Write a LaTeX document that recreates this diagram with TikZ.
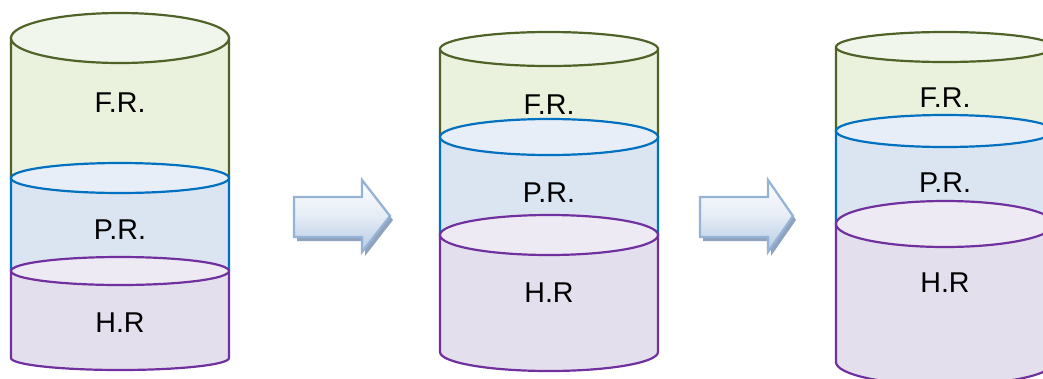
\documentclass[tikz,border=0pt]{standalone}
\usepackage{fontspec}
\setmainfont{Liberation Sans}
\usepackage{tikz}
\usetikzlibrary{positioning, arrows.meta, calc}

% colours of the three layers
\definecolor{frline}{HTML}{4F6228}
\definecolor{frfill}{HTML}{EAF1DD}
\definecolor{frtop}{HTML}{F1F6EC}
\definecolor{prline}{HTML}{0070C0}
\definecolor{prfill}{HTML}{DBE5F1}
\definecolor{prtop}{HTML}{E7EEF7}
\definecolor{hrline}{HTML}{7030A0}
\definecolor{hrfill}{HTML}{E4DFEC}
\definecolor{hrtop}{HTML}{EEEAF3}
\definecolor{arrline}{HTML}{95B3D7}
\definecolor{arrshade}{HTML}{8FA3BD}

% one layer of a drum: centre x, top y, bottom y, top and bottom half heights, line, fill, lid
\newcommand{\drumlayer}[8]{%
  \filldraw[#6, fill=#7] (#1-109,#2) -- (#1-109,#3)
    arc[start angle=180, end angle=360, x radius=109*0.2mm, y radius=#5*0.2mm]
    -- (#1+109,#2) -- cycle;
  \filldraw[#6, fill=#8] (#1,#2) ellipse[x radius=109*0.2mm, y radius=#4*0.2mm];
}

\begin{document}
\begin{tikzpicture}[
    x=0.2mm, y=0.2mm,
    line width=1.25pt,
    every node/.style={font=\fontsize{16.3}{19}\selectfont, inner sep=0pt},
    shift arrow/.style={draw=arrline, line width=1.3pt, top color=white, bottom color=arrline!70, middle color=arrline!25},
    arrow shadow/.style={fill=arrshade}
]
\useasboundingbox (0,0) rectangle (1043,378);

% First drum
\drumlayer{120}{340}{200}{25}{15}{frline}{frfill}{frtop}
\drumlayer{120}{200}{107}{15}{14}{prline}{prfill}{prtop}
\drumlayer{120}{107}{20}{14}{12}{hrline}{hrfill}{hrtop}
\node (fr1) at (120,275) {F.R.};
\node (pr1) at (120,148) {P.R.};
\node (hr1) at (120,55) {H.R};

% Second drum
\drumlayer{549}{329}{241}{17}{18}{frline}{frfill}{frtop}
\drumlayer{549}{241}{143}{18}{20}{prline}{prfill}{prtop}
\drumlayer{549}{143}{26}{20}{19}{hrline}{hrfill}{hrtop}
\node (fr2) at (549,273) {F.R.};
\node (pr2) at (549,185) {P.R.};
\node (hr2) at (549,85) {H.R};

% Third drum
\drumlayer{945}{331}{247}{15}{16}{frline}{frfill}{frtop}
\drumlayer{945}{247}{154}{16}{23}{prline}{prfill}{prtop}
\drumlayer{945}{154}{16}{23}{23}{hrline}{hrfill}{hrtop}
\node (fr3) at (945,280) {F.R.};
\node (pr3) at (945,195) {P.R.};
\node (hr3) at (945,95) {H.R};

% Arrows between the drums
\fill[arrow shadow] (297,177) -- (365,177) -- (365,194) -- (393,158) -- (365,122) -- (365,137) -- (297,137) -- cycle;
\path[shift arrow] (294,181) -- (362,181) -- (362,198) -- (390,162) -- (362,126) -- (362,141) -- (294,141) -- cycle;

\fill[arrow shadow] (703,177) -- (771,177) -- (771,194) -- (796,158) -- (771,122) -- (771,137) -- (703,137) -- cycle;
\path[shift arrow] (700,181) -- (768,181) -- (768,198) -- (793,162) -- (768,126) -- (768,141) -- (700,141) -- cycle;

\end{tikzpicture}
\end{document}
